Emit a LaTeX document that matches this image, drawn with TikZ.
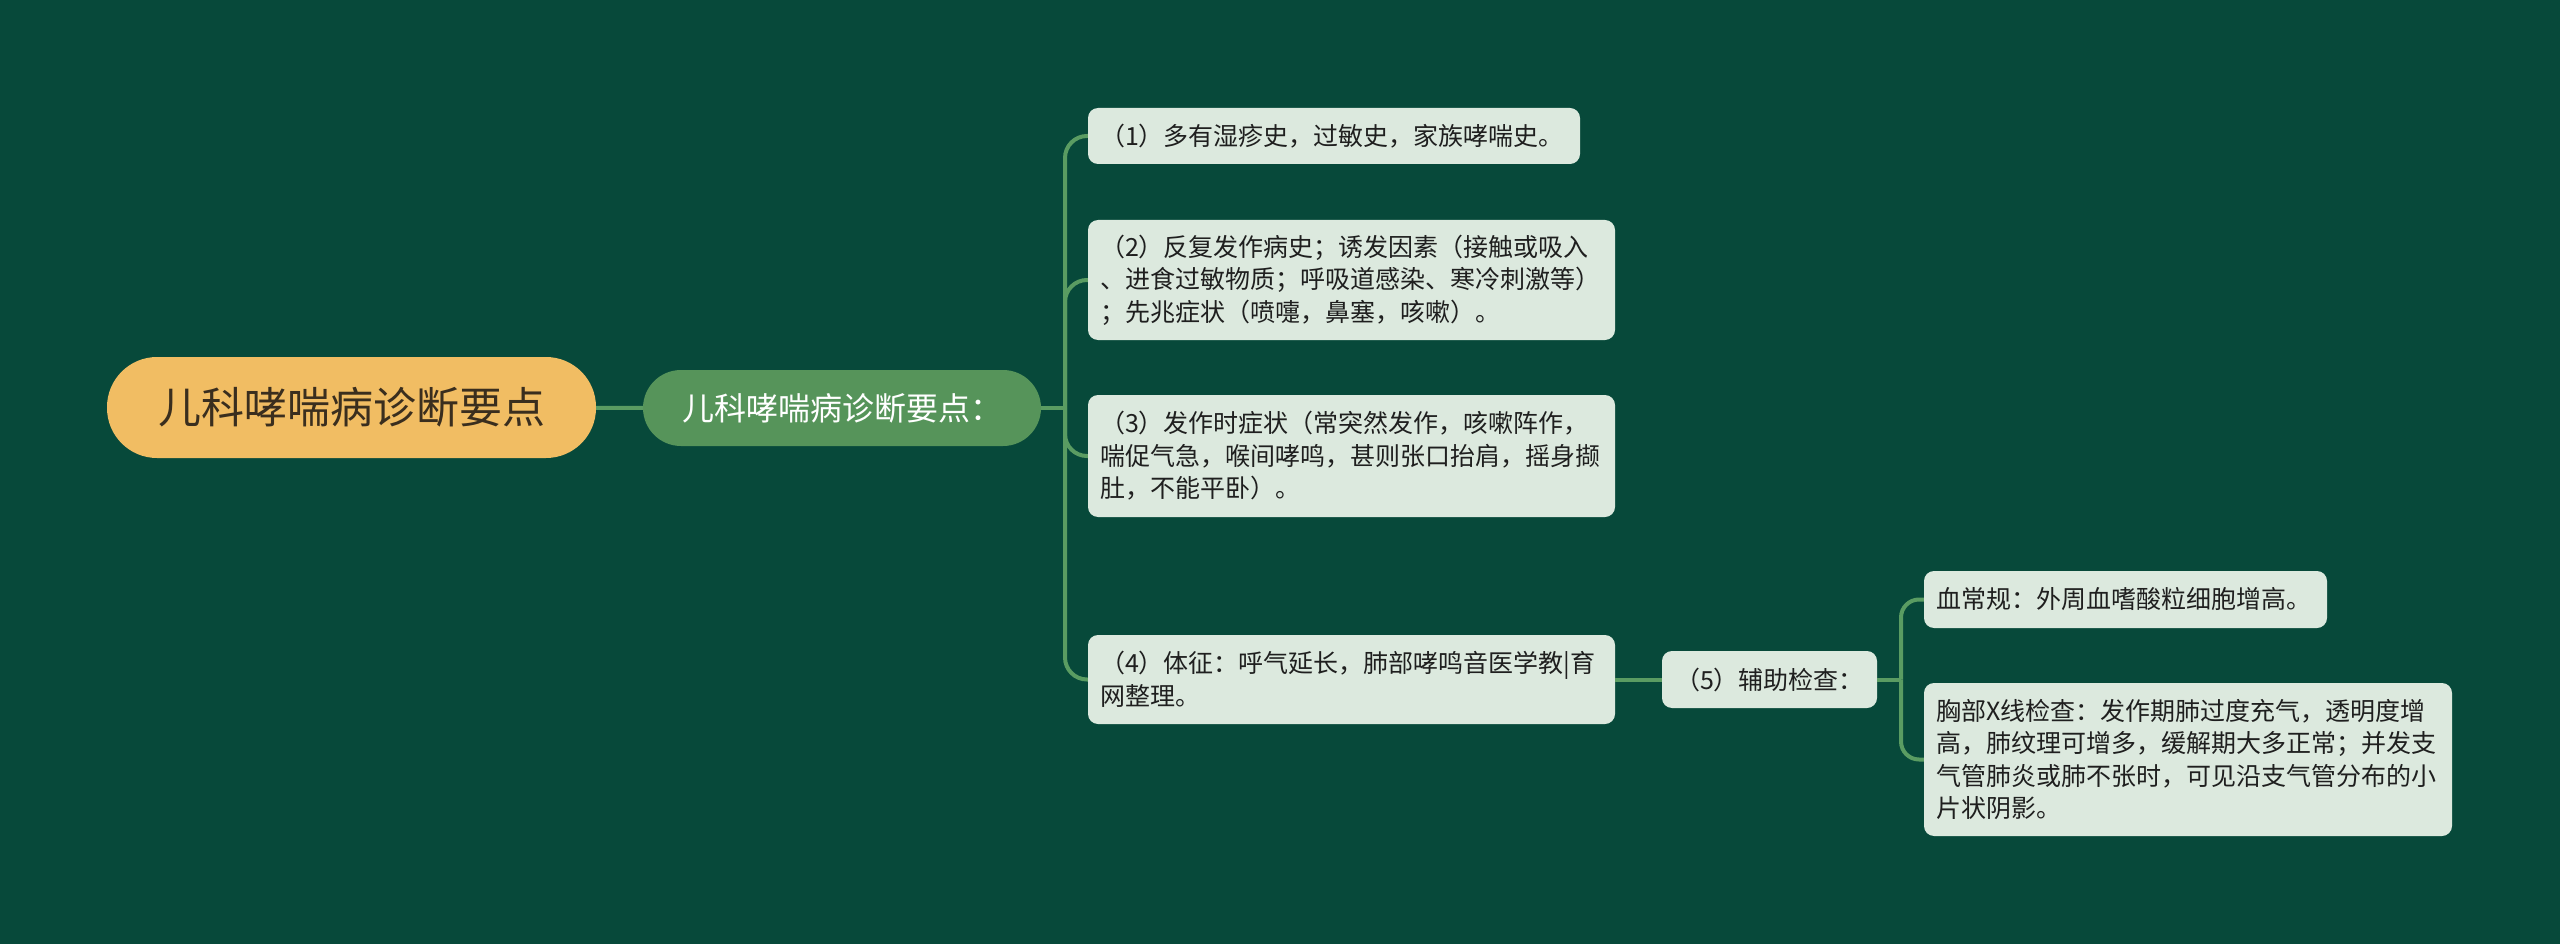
\documentclass[tikz,border=0pt]{standalone}
\usepackage{fontspec}
\newfontfamily\cjk{Noto Sans CJK SC}
\definecolor{bg}{HTML}{07493A}
\definecolor{rootorange}{HTML}{F1BD63}
\definecolor{roottext}{HTML}{3A2E1E}
\definecolor{maingreen}{HTML}{56945A}
\definecolor{leafgray}{HTML}{DCE9DE}
\definecolor{leaftext}{HTML}{1F1F1F}
\definecolor{linkgreen}{HTML}{5A9C62}
\begin{document}
\begin{tikzpicture}[x=1pt, y=-1pt,
            link/.style={draw=linkgreen, line width=4pt},
            leaf/.style={fill=leafgray, text=leaftext, rounded corners=10pt, align=left,
                inner xsep=12pt, inner ysep=6pt, font=\cjk\fontsize{25}{32.5}\selectfont}]
            \fill[bg] (0,0) rectangle (2560,944);

            \node[fill=rootorange, text=roottext, rounded corners=50pt, minimum width=489pt, minimum height=101pt,
                font=\cjk\fontsize{43}{50}\selectfont] (root) at (351.5,407.5) {儿科哮喘病诊断要点};
            \node[fill=maingreen, text=white, rounded corners=38pt, minimum width=398pt, minimum height=76pt,
                font=\cjk\fontsize{32}{38}\selectfont] (main) at (842,408) {儿科哮喘病诊断要点：};

            \node[leaf, text width=468pt, minimum height=56pt] (p1) at (1334,136) {（1）多有湿疹史，过敏史，家族哮喘史。};
            \node[leaf, text width=503pt, minimum height=120pt] (p2) at (1351.5,280) {（2）反复发作病史；诱发因素（接触或吸入\\、进食过敏物质；呼吸道感染、寒冷刺激等）\\；先兆症状（喷嚏，鼻塞，咳嗽）。};
            \node[leaf, text width=503pt, minimum height=122pt] (p3) at (1351.5,456) {（3）发作时症状（常突然发作，咳嗽阵作，\\喘促气急，喉间哮鸣，甚则张口抬肩，摇身撷\\肚，不能平卧）。};
            \node[leaf, text width=503pt, minimum height=89pt] (p4) at (1351.5,679.5) {（4）体征：呼气延长，肺部哮鸣音医学教|育\\网整理。};
            \node[leaf, align=center, minimum width=215pt, minimum height=57pt] (p5) at (1769.5,679.5) {（5）辅助检查：};
            \node[leaf, text width=379pt, minimum height=57pt] (x1) at (2125.5,599.5) {血常规：外周血嗜酸粒细胞增高。};
            \node[leaf, text width=504pt, minimum height=153pt] (x2) at (2188,759.5) {胸部X线检查：发作期肺过度充气，透明度增\\高，肺纹理可增多，缓解期大多正常；并发支\\气管肺炎或肺不张时，可见沿支气管分布的小\\片状阴影。};

            \coordinate (fork) at (1065,408);
            \coordinate (fork2) at (1901,679.5);

            \draw[link] (root) -- (main);
            \draw[link] (main) -- (fork);
            \draw[link, rounded corners=22pt] (fork) |- (p1.west);
            \draw[link, rounded corners=22pt] (fork) |- (p2.west);
            \draw[link, rounded corners=22pt] (fork) |- (p3.west);
            \draw[link, rounded corners=22pt] (fork) |- (p4.west);

            \draw[link] (p4) -- (p5);
            \draw[link] (p5) -- (fork2);
            \draw[link, rounded corners=18pt] (fork2) |- (x1.west);
            \draw[link, rounded corners=18pt] (fork2) |- (x2.west);
        \end{tikzpicture}
\end{document}
